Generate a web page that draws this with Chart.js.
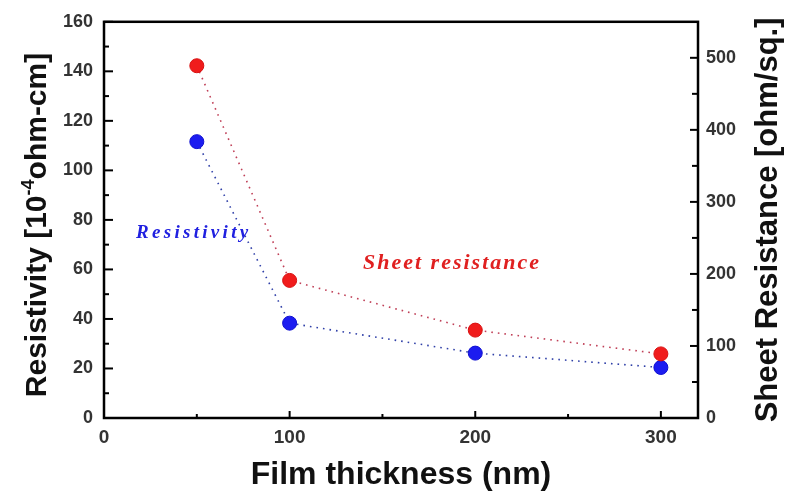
<!DOCTYPE html>
<html>
<head>
<meta charset="utf-8">
<script src="https://cdn.jsdelivr.net/npm/chart.js@4"></script>
<style>
  body { margin: 0; background: #fff; }
  #wrap { width: 789px; height: 494px; }
</style>
</head>
<body>
<div id="wrap"><canvas id="myChart"></canvas></div>
<script>
const thickness = [50, 100, 200, 300]
const resistivity = [111.6, 38.3, 26.2, 20.4]
const sheetResistance = [489, 191, 122, 89]

const xTicks = [0, 100, 200, 300]
const xMinor = [50, 150, 250]
const yTicks = [0, 20, 40, 60, 80, 100, 120, 140, 160]
const yMinor = [10, 30, 50, 70, 90, 110, 130, 150]
const y2Ticks = [0, 100, 200, 300, 400, 500]
const y2Minor = [50, 150, 250, 350, 450]

const sans = "'Liberation Sans', Arial, sans-serif"
const serif = "'Liberation Serif', 'Times New Roman', serif"

function pts(ys) {
  return thickness.map((x, i) => ({ x: x, y: ys[i] }))
}

// frame, inward ticks, titles and labels
const decor = {
  id: 'decor',
  afterDraw(chart) {
    const ctx = chart.ctx
    const a = chart.chartArea
    const sx = chart.scales.x, sy = chart.scales.y, sy2 = chart.scales.y2
    ctx.save()
    ctx.strokeStyle = '#000'
    ctx.lineWidth = 2.5
    ctx.strokeRect(a.left, a.top, a.right - a.left, a.bottom - a.top)

    ctx.lineWidth = 2
    const tick = (x1, y1, x2, y2) => {
      ctx.beginPath(); ctx.moveTo(x1, y1); ctx.lineTo(x2, y2); ctx.stroke()
    }
    xTicks.forEach(v => { const p = sx.getPixelForValue(v); tick(p, a.bottom, p, a.bottom - 7) })
    xMinor.forEach(v => { const p = sx.getPixelForValue(v); tick(p, a.bottom, p, a.bottom - 4) })
    yTicks.forEach(v => { const p = sy.getPixelForValue(v); tick(a.left, p, a.left + 9, p) })
    yMinor.forEach(v => { const p = sy.getPixelForValue(v); tick(a.left, p, a.left + 5, p) })
    y2Ticks.forEach(v => { const p = sy2.getPixelForValue(v); tick(a.right, p, a.right - 8, p) })
    y2Minor.forEach(v => { const p = sy2.getPixelForValue(v); tick(a.right, p, a.right - 6, p) })

    // axis titles
    ctx.fillStyle = '#111'
    ctx.textAlign = 'center'
    ctx.textBaseline = 'middle'
    ctx.font = 'bold 32px ' + sans
    ctx.fillText('Film thickness (nm)', (a.left + a.right) / 2, 475)

    // left title with superscript
    const big = 'bold 30px ' + sans, small = 'bold 18px ' + sans
    const p1 = 'Resistivity [10', p2 = '-4', p3 = 'ohm-cm]'
    ctx.font = big
    const w1 = ctx.measureText(p1).width, w3 = ctx.measureText(p3).width
    ctx.font = small
    const w2 = ctx.measureText(p2).width
    const total = w1 + w2 + w3
    ctx.save()
    ctx.translate(35, 225)
    ctx.rotate(-Math.PI / 2)
    ctx.textAlign = 'left'
    ctx.textBaseline = 'alphabetic'
    let x0 = -total / 2
    ctx.font = big
    ctx.fillText(p1, x0, 11)
    ctx.font = small
    ctx.fillText(p2, x0 + w1, -1)
    ctx.font = big
    ctx.fillText(p3, x0 + w1 + w2, 11)
    ctx.restore()

    ctx.font = 'bold 31px ' + sans
    ctx.save()
    ctx.translate(768, (a.top + a.bottom) / 2)
    ctx.rotate(-Math.PI / 2)
    ctx.fillText('Sheet Resistance [ohm/sq.]', 0, 0)
    ctx.restore()

    // series labels
    ctx.textAlign = 'left'
    ctx.textBaseline = 'alphabetic'
    ctx.letterSpacing = '3.3px'
    ctx.font = 'italic bold 19px ' + serif
    ctx.fillStyle = '#2020e0'
    ctx.fillText('Resistivity', 136, 238)
    ctx.letterSpacing = '2px'
    ctx.font = 'italic bold 22px ' + serif
    ctx.fillStyle = '#e02020'
    ctx.fillText('Sheet resistance', 363, 269)
    ctx.restore()
  }
}

const config = {
  type: 'scatter',
  data: {
    datasets: [
      {
        label: 'Sheet resistance',
        data: pts(sheetResistance),
        yAxisID: 'y2',
        showLine: true,
        borderColor: '#c04058',
        borderWidth: 1.6,
        borderDash: [1.6, 5],
        backgroundColor: '#f01c1c',
        pointBorderColor: '#d81010',
        pointRadius: 7,
        pointBorderWidth: 1
      },
      {
        label: 'Resistivity',
        data: pts(resistivity),
        yAxisID: 'y',
        showLine: true,
        borderColor: '#3040a8',
        borderWidth: 1.6,
        borderDash: [1.6, 5],
        backgroundColor: '#1c1cf0',
        pointBorderColor: '#1010d0',
        pointRadius: 7,
        pointBorderWidth: 1
      }
    ]
  },
  options: {
    responsive: true,
    maintainAspectRatio: false,
    animation: false,
    layout: { padding: { top: 18 } },
    plugins: {
      legend: { display: false },
      tooltip: { enabled: false }
    },
    scales: {
      x: {
        type: 'linear',
        min: 0,
        max: 320,
        afterBuildTicks: s => { s.ticks = xTicks.map(v => ({ value: v })) },
        afterFit: s => { s.height = 76 },
        grid: { display: false, drawTicks: false },
        border: { display: false },
        ticks: { color: '#333', padding: 8, font: { family: sans, size: 19, weight: 'bold' } }
      },
      y: {
        position: 'left',
        min: 0,
        max: 160,
        afterBuildTicks: s => { s.ticks = yTicks.map(v => ({ value: v })) },
        afterFit: s => { s.width = 104 },
        grid: { display: false, drawTicks: false },
        border: { display: false },
        ticks: { color: '#333', padding: 11, font: { family: sans, size: 18, weight: 'bold' } }
      },
      y2: {
        position: 'right',
        min: 0,
        max: 550,
        afterBuildTicks: s => { s.ticks = y2Ticks.map(v => ({ value: v })) },
        afterFit: s => { s.width = 91 },
        grid: { display: false, drawTicks: false },
        border: { display: false },
        ticks: { color: '#333', padding: 8, font: { family: sans, size: 18, weight: 'bold' } }
      }
    }
  },
  plugins: [decor]
}

const myChart = new Chart(document.getElementById('myChart'), config)
</script>
</body>
</html>
